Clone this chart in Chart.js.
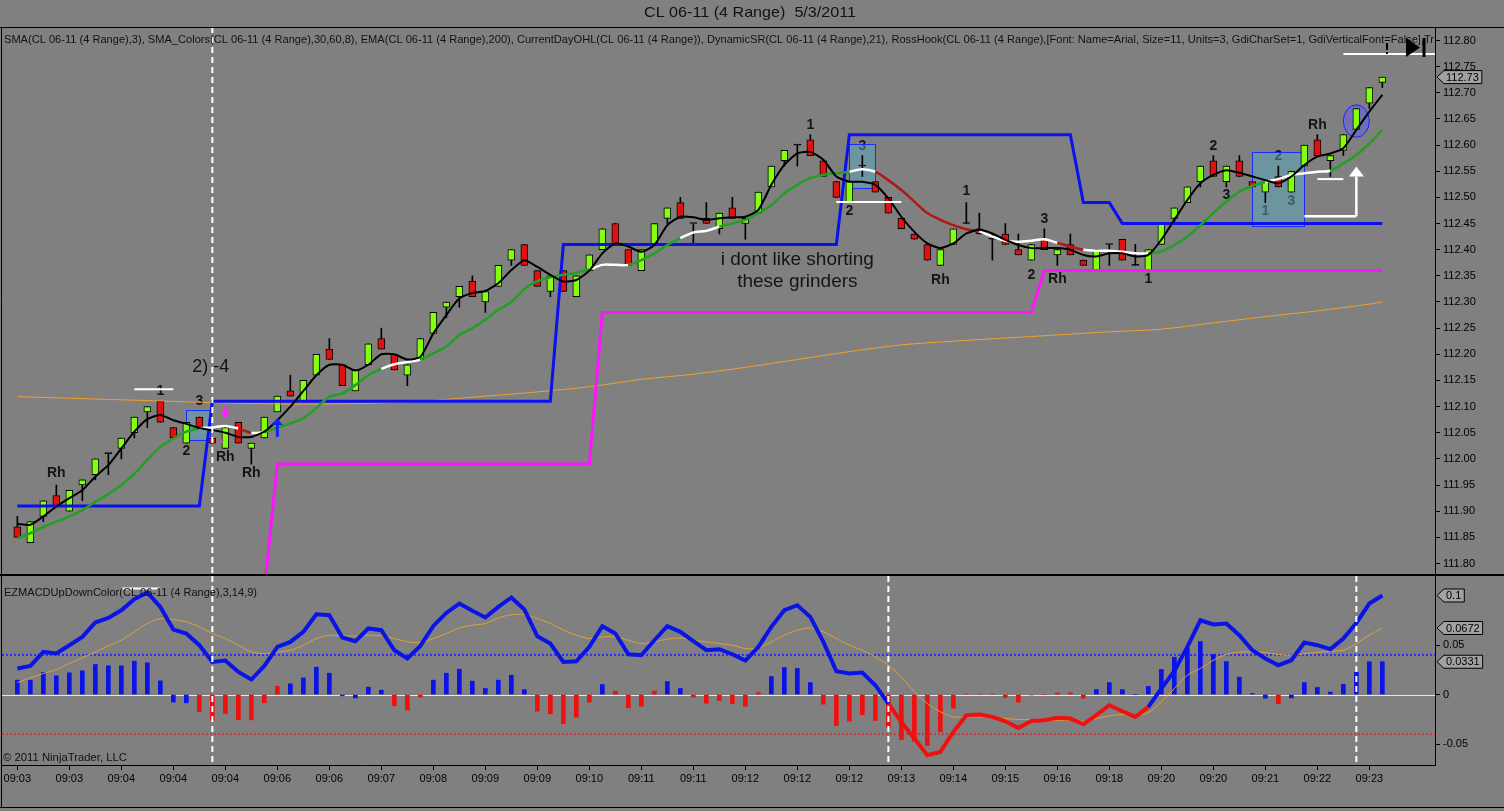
<!DOCTYPE html>
<html>
<head>
<meta charset="utf-8">
<script src="https://cdn.jsdelivr.net/npm/chart.js@4.4.1/dist/chart.umd.min.js"></script>
<style>
  html, body { margin: 0; padding: 0; background: #808080; }
  #wrap { position: relative; width: 1504px; height: 811px; overflow: hidden; background: #808080; }
  canvas { position: absolute; left: 0; }
  #price { top: 0; }
  #macd { top: 575px; }
</style>
</head>
<body>
<div id="wrap">
  <canvas id="price" width="1504" height="576"></canvas>
  <canvas id="macd" width="1504" height="236"></canvas>
</div>
<script>
// ---- data ----
const xLabels = ['09:03','09:03','09:04','09:04','09:04','09:06','09:06','09:07','09:08','09:09','09:09','09:10','09:11','09:11',
                 '09:12','09:12','09:12','09:13','09:14','09:15','09:16','09:18','09:20','09:20','09:21','09:22','09:23'];
const tickIdx = [0,4,8,12,16,20,24,28,32,36,40,44,48,52,56,60,64,68,72,76,80,84,88,92,96,100,104];
const priceTicks = [111.80,111.85,111.90,111.95,112.00,112.05,112.10,112.15,112.20,112.25,112.30,112.35,112.40,
                    112.45,112.50,112.55,112.60,112.65,112.70,112.75,112.80];
const macdTicks = [-0.05, 0, 0.05];

const opens = [
  111.87,111.84,111.89,111.93,111.90,111.95,111.97,112.01,112.02,112.05,
  112.09,112.11,112.06,112.03,112.08,112.04,112.02,112.07,112.02,112.04,
  112.09,112.13,112.11,112.16,112.21,112.18,112.13,112.18,112.23,112.20,
  112.16,112.19,112.24,112.29,112.31,112.34,112.30,112.33,112.38,112.41,
  112.36,112.32,112.36,112.31,112.36,112.40,112.45,112.40,112.36,112.41,
  112.46,112.49,112.45,112.46,112.44,112.48,112.45,112.47,112.52,112.57,
  112.60,112.61,112.57,112.53,112.49,112.56,112.53,112.50,112.46,112.43,
  112.41,112.37,112.41,112.45,112.44,112.42,112.43,112.40,112.38,112.42,
  112.39,112.41,112.38,112.36,112.41,112.42,112.37,112.36,112.41,112.46,
  112.49,112.53,112.57,112.53,112.57,112.53,112.51,112.54,112.51,112.56,
  112.61,112.57,112.59,112.63,112.68,112.72];
const highs = [
  111.89,111.88,111.92,111.95,111.94,111.96,112.00,112.01,112.04,112.08,
  112.10,112.11,112.06,112.07,112.08,112.04,112.06,112.07,112.03,112.08,
  112.12,112.16,112.15,112.20,112.23,112.18,112.17,112.22,112.25,112.20,
  112.18,112.23,112.28,112.30,112.33,112.35,112.32,112.37,112.40,112.41,
  112.36,112.35,112.36,112.35,112.39,112.44,112.45,112.40,112.40,112.45,
  112.48,112.50,112.45,112.49,112.47,112.50,112.46,112.51,112.56,112.59,
  112.60,112.62,112.57,112.53,112.53,112.58,112.53,112.50,112.46,112.43,
  112.41,112.40,112.44,112.49,112.47,112.43,112.45,112.43,112.41,112.44,
  112.40,112.43,112.38,112.40,112.41,112.42,112.41,112.40,112.45,112.48,
  112.52,112.56,112.58,112.56,112.58,112.53,112.53,112.56,112.55,112.60,
  112.62,112.58,112.62,112.67,112.71,112.73];
const lows = [
  111.85,111.84,111.88,111.91,111.90,111.92,111.96,111.97,112.00,112.04,
  112.06,112.07,112.04,112.03,112.06,112.03,112.02,112.03,111.99,112.04,
  112.09,112.12,112.11,112.16,112.19,112.14,112.13,112.18,112.21,112.17,
  112.14,112.19,112.24,112.27,112.29,112.31,112.28,112.33,112.37,112.37,
  112.33,112.31,112.32,112.31,112.36,112.40,112.41,112.37,112.36,112.41,
  112.45,112.46,112.41,112.45,112.43,112.46,112.42,112.47,112.52,112.56,
  112.56,112.58,112.54,112.50,112.49,112.54,112.51,112.47,112.44,112.42,
  112.38,112.37,112.41,112.45,112.43,112.38,112.41,112.39,112.38,112.40,
  112.37,112.39,112.37,112.36,112.37,112.38,112.37,112.36,112.41,112.45,
  112.49,112.52,112.54,112.52,112.54,112.52,112.49,112.52,112.51,112.56,
  112.58,112.54,112.58,112.63,112.67,112.71];
const closes = [
  111.85,111.88,111.92,111.91,111.94,111.96,112.00,112.01,112.04,112.08,
  112.10,112.07,112.04,112.07,112.06,112.03,112.06,112.03,112.03,112.08,
  112.12,112.12,112.15,112.20,112.19,112.14,112.17,112.22,112.21,112.17,
  112.18,112.23,112.28,112.30,112.33,112.31,112.32,112.37,112.40,112.37,
  112.33,112.35,112.32,112.35,112.39,112.44,112.41,112.37,112.40,112.45,
  112.48,112.46,112.45,112.45,112.47,112.46,112.46,112.51,112.56,112.59,
  112.60,112.58,112.54,112.50,112.53,112.56,112.51,112.47,112.44,112.42,
  112.38,112.40,112.44,112.45,112.43,112.42,112.41,112.39,112.41,112.40,
  112.40,112.39,112.37,112.40,112.41,112.38,112.37,112.40,112.45,112.48,
  112.52,112.56,112.54,112.56,112.54,112.52,112.53,112.52,112.55,112.60,
  112.58,112.58,112.62,112.67,112.71,112.73];

// SMA(3), black
const sma3 = [
  111.876,111.874,111.890,111.909,111.925,111.940,111.966,111.988,112.020,112.052,
  112.076,112.084,112.074,112.067,112.059,112.055,112.050,112.042,112.042,112.052,
  112.074,112.100,112.130,112.160,112.180,112.180,112.169,112.180,112.200,112.200,
  112.190,112.195,112.240,112.275,112.307,112.317,112.321,112.336,112.361,112.380,
  112.367,112.352,112.339,112.342,112.360,112.393,112.412,112.406,112.396,112.409,
  112.447,112.463,112.462,112.457,112.460,112.462,112.463,112.476,112.524,112.562,
  112.584,112.587,112.572,112.540,112.530,112.530,112.524,112.498,112.463,112.434,
  112.412,112.403,112.412,112.431,112.438,112.431,112.419,112.409,112.403,112.403,
  112.403,112.400,112.390,112.387,112.393,112.393,112.387,112.390,112.419,112.457,
  112.495,112.527,112.543,112.552,112.547,112.540,112.533,112.527,112.540,112.562,
  112.578,112.584,112.594,112.629,112.664,112.696];

// SMA_Colors(30,60,8) with its rising / flat / falling colouring
const smaColors = [
  111.848,111.858,111.870,111.880,111.890,111.902,111.918,111.933,111.950,111.972,
  111.998,112.023,112.039,112.052,112.058,112.060,112.063,112.058,112.050,112.051,
  112.060,112.068,112.078,112.097,112.119,112.125,112.141,112.160,112.172,112.181,
  112.185,112.190,112.202,112.215,112.237,112.250,112.266,112.285,112.300,112.325,
  112.340,112.347,112.352,112.356,112.362,112.371,112.371,112.371,112.380,112.393,
  112.409,112.422,112.433,112.436,112.444,112.450,112.457,112.470,112.485,112.508,
  112.524,112.537,112.543,112.546,112.549,112.554,112.549,112.533,112.514,112.492,
  112.470,112.457,112.447,112.439,112.435,112.425,112.417,112.415,112.417,112.420,
  112.413,112.406,112.400,112.398,112.398,112.396,112.393,112.393,112.397,112.409,
  112.425,112.447,112.470,112.492,112.511,112.522,112.530,112.535,112.543,112.546,
  112.549,112.551,112.565,112.581,112.603,112.629];
const smaState = ('ggggggggggggggg' + 'www' + 'r' + 'w' + 'ggggggggg' + 'www' + 'ggggggggggggg' + 'www' +
                  'gggg' + 'www' + 'gggggggggg' + 'ww' + 'rrrrrrrr' + 'wwwwww' + 'rr' + 'wwwww' +
                  'ggggggggg' + 'wwwww' + 'gggg').split('');

// EMA(200), read every 4th bar
const emaIdx = [0,4,8,12,16,20,24,28,32,36,40,44,48,52,56,60,64,68,72,76,80,84,88,92,96,100,104,105];
const emaVal = [112.119,112.116,112.113,112.110,112.107,112.105,112.105,112.107,112.112,112.120,112.128,112.138,
                112.152,112.162,112.175,112.190,112.205,112.218,112.225,112.231,112.237,112.243,112.248,112.260,
                112.272,112.283,112.296,112.300];

// CurrentDayOHL high (blue) and low (magenta), break points
const ohlHighIdx = [0,14,15,41,42,63,64,81,82,84,85,105];
const ohlHighVal = [111.91,111.91,112.11,112.11,112.41,112.41,112.62,112.62,112.49,112.49,112.45,112.45];
const ohlLowIdx = [19,20,44,45,78,79,105];
const ohlLowVal = [111.75,111.99,111.99,112.28,112.28,112.36,112.36];

// EZMACD panel
const macd = [
  0.0263,0.0289,0.0430,0.0414,0.0498,0.0582,0.0727,0.0774,0.0851,0.0963,
  0.1030,0.0885,0.0656,0.0616,0.0498,0.0329,0.0343,0.0228,0.0151,0.0289,
  0.0481,0.0531,0.0632,0.0811,0.0801,0.0576,0.0538,0.0667,0.0650,0.0447,
  0.0364,0.0491,0.0693,0.0824,0.0919,0.0845,0.0778,0.0885,0.0980,0.0859,
  0.0589,0.0515,0.0329,0.0336,0.0481,0.0690,0.0616,0.0407,0.0397,0.0548,
  0.0690,0.0633,0.0538,0.0447,0.0458,0.0407,0.0343,0.0481,0.0683,0.0851,
  0.0902,0.0784,0.0532,0.0235,0.0212,0.0222,0.0094,-0.0091,-0.0277,-0.0445,
  -0.0613,-0.0580,-0.0378,-0.0209,-0.0202,-0.0226,-0.0270,-0.0337,-0.0267,-0.0260,
  -0.0236,-0.0243,-0.0300,-0.0209,-0.0108,-0.0169,-0.0226,-0.0125,0.0060,0.0238,
  0.0481,0.0750,0.0707,0.0717,0.0599,0.0447,0.0364,0.0296,0.0346,0.0525,
  0.0498,0.0458,0.0566,0.0723,0.0919,0.1000];
const macdState = ('b'.repeat(68) + 'r'.repeat(20) + 'b'.repeat(18)).split('');
const signal = [
  0.0121,0.0168,0.0212,0.0253,0.0314,0.0370,0.0430,0.0491,0.0548,0.0633,
  0.0717,0.0767,0.0757,0.0734,0.0683,0.0616,0.0565,0.0498,0.0430,0.0414,
  0.0430,0.0447,0.0498,0.0565,0.0599,0.0592,0.0589,0.0599,0.0592,0.0565,
  0.0532,0.0525,0.0565,0.0616,0.0673,0.0700,0.0717,0.0774,0.0805,0.0808,
  0.0767,0.0717,0.0650,0.0599,0.0565,0.0582,0.0582,0.0548,0.0515,0.0532,
  0.0559,0.0572,0.0548,0.0532,0.0515,0.0498,0.0465,0.0471,0.0532,0.0599,
  0.0650,0.0673,0.0633,0.0565,0.0498,0.0447,0.0380,0.0296,0.0178,0.0027,
  -0.0091,-0.0175,-0.0226,-0.0226,-0.0226,-0.0236,-0.0243,-0.0252,-0.0253,-0.0260,
  -0.0260,-0.0260,-0.0270,-0.0243,-0.0216,-0.0202,-0.0209,-0.0182,-0.0075,0.0060,
  0.0195,0.0263,0.0346,0.0404,0.0430,0.0430,0.0424,0.0404,0.0397,0.0414,
  0.0424,0.0438,0.0447,0.0515,0.0599,0.0672];
const hist = [
  0.0145,0.0145,0.0222,0.0189,0.0219,0.0239,0.0303,0.0290,0.0290,0.0337,
  0.0320,0.0138,-0.0077,-0.0084,-0.0175,-0.0260,-0.0192,-0.0256,-0.0256,-0.0084,
  0.0084,0.0108,0.0168,0.0276,0.0215,-0.0013,-0.0034,0.0074,0.0044,-0.0114,
  -0.0158,-0.0027,0.0145,0.0215,0.0256,0.0135,0.0061,0.0145,0.0195,0.0050,
  -0.0168,-0.0195,-0.0296,-0.0229,-0.0077,0.0101,0.0034,-0.0135,-0.0118,0.0034,
  0.0131,0.0061,-0.0027,-0.0088,-0.0061,-0.0094,-0.0118,0.0020,0.0182,0.0273,
  0.0263,0.0121,-0.0098,-0.0313,-0.0269,-0.0205,-0.0263,-0.0330,-0.0455,-0.0471,
  -0.0515,-0.0377,-0.0138,0.0005,0.0005,0.0005,-0.0030,-0.0077,-0.0005,0.0000,
  0.0017,0.0017,-0.0037,0.0050,0.0121,0.0050,0.0000,0.0081,0.0253,0.0377,
  0.0468,0.0535,0.0404,0.0333,0.0175,0.0010,-0.0037,-0.0094,-0.0034,0.0121,
  0.0071,0.0024,0.0104,0.0226,0.0331,0.0331];
const histState = ('b'.repeat(14) + 'r'.repeat(7) + 'b'.repeat(8) + 'r'.repeat(3) + 'b'.repeat(8) + 'r'.repeat(5) +
                   'b' + 'r'.repeat(4) + 'b'.repeat(2) + 'r'.repeat(6) + 'b'.repeat(4) + 'r'.repeat(21) +
                   'b'.repeat(14) + 'r' + 'b'.repeat(8)).split('');
const macdLevels = [0.04, -0.04];

// drawn annotations (bar index, price)
const noteIdx   = [3, 11, 14, 13, 16, 18, 61, 65, 64, 73, 71, 79, 78, 80, 87, 92, 93, 97, 96, 98, 100];
const notePrice = [111.973,112.130,112.111,112.014,112.004,111.973,112.638,112.598,112.473,112.511,112.342,
                   112.458,112.352,112.343,112.343,112.598,112.505,112.579,112.473,112.492,112.638];
const noteText  = ['Rh','1','3','2','Rh','Rh','1','3','2','1','Rh','3','2','Rh','1','2','3','2','1','3','Rh'];
const commentText = ['i dont like shorting', 'these grinders'];
const commentIdx = 60;
const commentPrice = [112.380, 112.338];
const tradeNote = '2) -4';
const tradeNoteIdx = 13.45;
const tradeNotePrice = 112.176;
const boxI0 = [13, 64, 95];
const boxI1 = [14.88, 66.03, 99];
const boxP0 = [112.094, 112.602, 112.586];
const boxP1 = [112.037, 112.517, 112.444];
const ellI = 103, ellP = 112.646, ellDI = 1.0, ellDP = 0.031;
const wlI0 = [9, 63, 100, 102];
const wlI1 = [12, 68, 102, 110];
const wlP  = [112.133, 112.491, 112.535, 112.774];
const hookI0 = 99, hookI1 = 103, hookP0 = 112.464, hookP1 = 112.559;
const topDashIdx = [15];
const macdDashIdx = [15, 67, 103];

const X_MIN = -1.18, X_MAX = 109.05;
const P_MIN = 111.7799, P_MAX = 112.8258;
const M_MIN = -0.0712, M_MAX = 0.1197;

const FONT = '"Liberation Sans", Arial, sans-serif';
Chart.defaults.font.family = FONT;
Chart.defaults.font.size = 11;
Chart.defaults.color = '#000';

const SEG = { g: '#22a022', w: '#ffffff', r: '#b01818' };
const UPDN = { b: '#0a14e6', r: '#f01010' };

const pts = arr => arr.map((v, i) => ({ x: i, y: v }));

// keep the plot areas exactly where the panels are: no label overflow padding
function fixWidth(w) {
  return s => { s.width = w; s.paddingTop = 0; s.paddingBottom = 0; };
}
function fixHeight(h) {
  return s => { s.height = h; s.paddingLeft = 0; s.paddingRight = 0; };
}

function fitText(ctx, text, x, y, w) {
  const m = ctx.measureText(text).width;
  ctx.save();
  ctx.translate(x, y);
  ctx.scale(w / m, 1);
  ctx.fillText(text, 0, 0);
  ctx.restore();
}

function clipArea(ctx, a) {
  ctx.beginPath();
  ctx.rect(a.left, a.top, a.right - a.left, a.bottom - a.top);
  ctx.clip();
}

function arrowV(ctx, x, yFrom, yTo, color, shaft, head) {
  const dir = yTo > yFrom ? 1 : -1;
  ctx.strokeStyle = color;
  ctx.fillStyle = color;
  ctx.lineWidth = shaft;
  ctx.beginPath();
  ctx.moveTo(x, yFrom);
  ctx.lineTo(x, yTo - dir * head);
  ctx.stroke();
  ctx.beginPath();
  ctx.moveTo(x - head * 0.75, yTo - dir * head);
  ctx.lineTo(x + head * 0.75, yTo - dir * head);
  ctx.lineTo(x, yTo);
  ctx.closePath();
  ctx.fill();
}

function valueBox(ctx, x, y, text) {
  ctx.font = '11px ' + FONT;
  const w = ctx.measureText(text).width + 5;
  const h = 13, tip = 7;
  ctx.beginPath();
  ctx.moveTo(x, y);
  ctx.lineTo(x + tip, y - h / 2);
  ctx.lineTo(x + tip + w, y - h / 2);
  ctx.lineTo(x + tip + w, y + h / 2);
  ctx.lineTo(x + tip, y + h / 2);
  ctx.closePath();
  ctx.fillStyle = '#a2a2a2';
  ctx.fill();
  ctx.strokeStyle = '#000';
  ctx.lineWidth = 1;
  ctx.stroke();
  ctx.fillStyle = '#000';
  ctx.textAlign = 'left';
  ctx.textBaseline = 'middle';
  ctx.fillText(text, x + tip + 2, y + 0.5);
}

function dashedV(ctx, x, a) {
  ctx.save();
  ctx.strokeStyle = '#ffffff';
  ctx.lineWidth = 2;
  ctx.setLineDash([6, 4]);
  ctx.beginPath();
  ctx.moveTo(x, a.top);
  ctx.lineTo(x, a.bottom);
  ctx.stroke();
  ctx.restore();
}

const fmt = v => String(Number(v.toFixed(4)));

// ---- price panel ----
const priceDecor = {
  id: 'priceDecor',
  beforeDatasetsDraw(chart) {
    const { ctx, chartArea: a, scales: { x, y } } = chart;
    ctx.save();
    clipArea(ctx, a);
    ctx.fillStyle = '#141414';
    ctx.textAlign = 'center';
    ctx.textBaseline = 'middle';
    ctx.font = 'bold 14px ' + FONT;
    noteText.forEach((t, k) => ctx.fillText(t, x.getPixelForValue(noteIdx[k]), y.getPixelForValue(notePrice[k])));
    ctx.font = '19px ' + FONT;
    commentText.forEach((t, k) => ctx.fillText(t, x.getPixelForValue(commentIdx), y.getPixelForValue(commentPrice[k])));
    ctx.textAlign = 'left';
    ctx.font = '18px ' + FONT;
    ctx.fillText(tradeNote, x.getPixelForValue(tradeNoteIdx), y.getPixelForValue(tradeNotePrice));

    boxI0.forEach((i0, k) => {
      const x0 = x.getPixelForValue(i0), x1 = x.getPixelForValue(boxI1[k]);
      const y0 = y.getPixelForValue(boxP0[k]), y1 = y.getPixelForValue(boxP1[k]);
      ctx.fillStyle = 'rgba(90,170,190,0.5)';
      ctx.fillRect(x0, y0, x1 - x0, y1 - y0);
      ctx.strokeStyle = '#1a2cff';
      ctx.lineWidth = 1;
      ctx.strokeRect(Math.round(x0) + 0.5, Math.round(y0) + 0.5, Math.round(x1 - x0), Math.round(y1 - y0));
    });

    const ex = x.getPixelForValue(ellI), ey = y.getPixelForValue(ellP);
    const rx = x.getPixelForValue(ellI + ellDI) - ex;
    const ry = ey - y.getPixelForValue(ellP + ellDP);
    ctx.beginPath();
    ctx.ellipse(ex, ey, rx, ry, 0, 0, Math.PI * 2);
    ctx.fillStyle = 'rgba(90,90,255,0.45)';
    ctx.fill();
    ctx.strokeStyle = '#2020ff';
    ctx.lineWidth = 1;
    ctx.stroke();
    ctx.restore();
  },
  afterDatasetsDraw(chart) {
    const { ctx, chartArea: a, scales: { x, y } } = chart;
    ctx.save();
    clipArea(ctx, a);
    ctx.strokeStyle = '#ffffff';
    ctx.lineWidth = 2;
    wlI0.forEach((i0, k) => {
      const yy = y.getPixelForValue(wlP[k]);
      ctx.beginPath();
      ctx.moveTo(x.getPixelForValue(i0), yy);
      ctx.lineTo(x.getPixelForValue(wlI1[k]), yy);
      ctx.stroke();
    });
    // RossHook target arrow
    const hx0 = x.getPixelForValue(hookI0), hx1 = x.getPixelForValue(hookI1);
    const hy0 = y.getPixelForValue(hookP0);
    ctx.lineWidth = 2.5;
    ctx.beginPath();
    ctx.moveTo(hx0, hy0);
    ctx.lineTo(hx1, hy0);
    ctx.stroke();
    arrowV(ctx, hx1, hy0, y.getPixelForValue(hookP1), '#ffffff', 2.5, 10);
    // entry markers
    arrowV(ctx, x.getPixelForValue(16), y.getPixelForValue(112.100), y.getPixelForValue(112.077), '#ff20ff', 3, 6);
    arrowV(ctx, x.getPixelForValue(20), y.getPixelForValue(112.042), y.getPixelForValue(112.078), '#1020ff', 3, 7);
    arrowV(ctx, x.getPixelForValue(15.73), y.getPixelForValue(112.036), y.getPixelForValue(112.030), '#ff20ff', 1, 3);
    topDashIdx.forEach(i => dashedV(ctx, x.getPixelForValue(i), a));
    ctx.restore();
  },
  afterDraw(chart) {
    const { ctx, chartArea: a, scales: { y } } = chart;
    const W = chart.width;
    ctx.save();
    ctx.fillStyle = '#111';
    ctx.textBaseline = 'middle';
    ctx.textAlign = 'left';
    ctx.font = '15px ' + FONT;
    fitText(ctx, 'CL 06-11 (4 Range)  5/3/2011', 644, 13, 212);

    ctx.save();
    clipArea(ctx, a);
    ctx.font = '11px ' + FONT;
    fitText(ctx, 'SMA(CL 06-11 (4 Range),3), SMA_Colors(CL 06-11 (4 Range),30,60,8), EMA(CL 06-11 (4 Range),200), ' +
      'CurrentDayOHL(CL 06-11 (4 Range)), DynamicSR(CL 06-11 (4 Range),21), RossHook(CL 06-11 (4 Range),' +
      '[Font: Name=Arial, Size=11, Units=3, GdiCharSet=1, GdiVerticalFont=False],Tr', 4, 40, 1430);
    ctx.restore();

    // scroll-to-end button
    ctx.fillStyle = '#000';
    ctx.beginPath();
    ctx.moveTo(a.right - 29, 38);
    ctx.lineTo(a.right - 29, 57);
    ctx.lineTo(a.right - 15, 47.5);
    ctx.closePath();
    ctx.fill();
    ctx.fillRect(a.right - 12.5, 38, 3, 19);
    ctx.fillRect(a.right - 49, 43, 2, 7);
    ctx.fillRect(a.right - 49, 52, 2, 2);

    // frame
    ctx.strokeStyle = '#000';
    ctx.lineWidth = 1;
    ctx.beginPath();
    ctx.moveTo(0, a.top + 0.5); ctx.lineTo(W, a.top + 0.5);
    ctx.moveTo(0, a.bottom + 0.5); ctx.lineTo(W, a.bottom + 0.5);
    ctx.moveTo(1.5, a.top); ctx.lineTo(1.5, chart.height);
    ctx.stroke();

    valueBox(ctx, a.right + 2, y.getPixelForValue(closes[closes.length - 1]), closes[closes.length - 1].toFixed(2));
    ctx.restore();
  }
};

new Chart(document.getElementById('price'), {
  type: 'bar',
  data: {
    datasets: [
      { type: 'line', label: 'SMA(3)', data: pts(sma3), borderColor: '#000', borderWidth: 2,
        pointRadius: 0, tension: 0.2, order: 1 },
      { type: 'line', label: 'SMA_Colors', data: pts(smaColors), borderColor: SEG.g, borderWidth: 2.5,
        segment: { borderColor: c => SEG[smaState[c.p1DataIndex]] },
        pointRadius: 0, tension: 0.3, order: 2 },
      { type: 'line', label: 'Day high', data: ohlHighIdx.map((i, k) => ({ x: i, y: ohlHighVal[k] })),
        borderColor: '#0a10f0', borderWidth: 3, pointRadius: 0, tension: 0, order: 3 },
      { type: 'line', label: 'Day low', data: ohlLowIdx.map((i, k) => ({ x: i, y: ohlLowVal[k] })),
        borderColor: '#ff14ff', borderWidth: 3, pointRadius: 0, tension: 0, order: 4 },
      { type: 'line', label: 'EMA(200)', data: emaIdx.map((i, k) => ({ x: i, y: emaVal[k] })),
        borderColor: '#f0a030', borderWidth: 1, pointRadius: 0, tension: 0.3, order: 5 },
      { type: 'bar', label: 'bodies', data: opens.map((o, i) => ({ x: i, y: [o, closes[i]] })),
        backgroundColor: opens.map((o, i) => closes[i] > o ? '#84ff10' : (closes[i] < o ? '#e41010' : '#000')),
        borderColor: '#000', borderWidth: 1, borderSkipped: false, barThickness: 7, minBarLength: 1,
        grouped: false, order: 6 },
      { type: 'bar', label: 'wicks', data: lows.map((l, i) => ({ x: i, y: [l, highs[i]] })),
        backgroundColor: '#000', borderWidth: 0, barThickness: 1, grouped: false, order: 7 }
    ]
  },
  options: {
    responsive: false,
    animation: false,
    layout: { padding: { top: 27, left: 2, right: 0, bottom: 2 } },
    plugins: { legend: { display: false }, tooltip: { enabled: false } },
    scales: {
      x: { type: 'linear', min: X_MIN, max: X_MAX, display: false, offset: false },
      y: {
        position: 'right', min: P_MIN, max: P_MAX,
        afterFit: fixWidth(69),
        afterBuildTicks: s => { s.ticks = priceTicks.map(v => ({ value: v })); },
        ticks: { callback: v => Number(v).toFixed(2), color: '#000', font: { size: 11 }, padding: 3, autoSkip: false },
        grid: { drawOnChartArea: false, drawTicks: true, tickLength: 5, color: '#000' },
        border: { display: true, color: '#000' }
      }
    }
  },
  plugins: [priceDecor]
});

// ---- MACD panel ----
const macdDecor = {
  id: 'macdDecor',
  beforeDatasetsDraw(chart) {
    const { ctx, chartArea: a, scales: { y } } = chart;
    ctx.save();
    clipArea(ctx, a);
    ctx.lineWidth = 1;
    ctx.strokeStyle = '#e8e8e8';
    const y0 = Math.round(y.getPixelForValue(0)) + 0.5;
    ctx.beginPath(); ctx.moveTo(a.left, y0); ctx.lineTo(a.right, y0); ctx.stroke();
    ctx.lineWidth = 2;
    ctx.setLineDash([2, 2]);
    macdLevels.forEach(v => {
      ctx.strokeStyle = v > 0 ? '#2a2aff' : '#d0303a';
      const yy = y.getPixelForValue(v);
      ctx.beginPath(); ctx.moveTo(a.left, yy); ctx.lineTo(a.right, yy); ctx.stroke();
    });
    ctx.restore();
  },
  afterDatasetsDraw(chart) {
    const { ctx, chartArea: a, scales: { x, y } } = chart;
    ctx.save();
    clipArea(ctx, a);
    macdDashIdx.forEach(i => dashedV(ctx, x.getPixelForValue(i), a));
    ctx.strokeStyle = '#ffffff';
    ctx.lineWidth = 2;
    const yy = y.getPixelForValue(0.107);
    ctx.beginPath(); ctx.moveTo(x.getPixelForValue(8.03), yy); ctx.lineTo(x.getPixelForValue(10.98), yy); ctx.stroke();
    ctx.fillStyle = '#111';
    ctx.textAlign = 'left';
    ctx.textBaseline = 'middle';
    ctx.font = '11px ' + FONT;
    fitText(ctx, 'EZMACDUpDownColor(CL 06-11 (4 Range),3,14,9)', 4, a.top + 17, 253);
    fitText(ctx, '\u00A9 2011 NinjaTrader, LLC', 3, a.bottom - 7, 124);
    ctx.restore();
  },
  afterDraw(chart) {
    const { ctx, chartArea: a, scales: { y } } = chart;
    const W = chart.width, H = chart.height;
    ctx.save();
    ctx.strokeStyle = '#000';
    ctx.lineWidth = 1;
    ctx.beginPath();
    ctx.moveTo(0, a.top - 0.5); ctx.lineTo(W, a.top - 0.5);
    ctx.moveTo(0, H - 3.5); ctx.lineTo(W, H - 3.5);
    ctx.moveTo(1.5, 0); ctx.lineTo(1.5, H - 3);
    ctx.stroke();
    const last = macd.length - 1;
    valueBox(ctx, a.right + 2, y.getPixelForValue(hist[last]), fmt(hist[last]));
    valueBox(ctx, a.right + 2, y.getPixelForValue(signal[last]), fmt(signal[last]));
    valueBox(ctx, a.right + 2, y.getPixelForValue(macd[last]), fmt(macd[last]));
    ctx.restore();
  }
};

new Chart(document.getElementById('macd'), {
  type: 'bar',
  data: {
    datasets: [
      { type: 'line', label: 'MACD', data: pts(macd), borderColor: UPDN.b, borderWidth: 4,
        segment: { borderColor: c => UPDN[macdState[c.p1DataIndex]] },
        pointRadius: 0, tension: 0, order: 1 },
      { type: 'line', label: 'Avg', data: pts(signal), borderColor: '#dca03c', borderWidth: 1,
        pointRadius: 0, tension: 0.3, order: 2 },
      { type: 'bar', label: 'Diff', data: pts(hist), backgroundColor: histState.map(s => UPDN[s]),
        borderWidth: 0, barThickness: 4, grouped: false, order: 3 }
    ]
  },
  options: {
    responsive: false,
    animation: false,
    layout: { padding: { top: 1, left: 2, right: 0, bottom: 0 } },
    plugins: { legend: { display: false }, tooltip: { enabled: false } },
    scales: {
      x: {
        type: 'linear', min: X_MIN, max: X_MAX, offset: false,
        afterFit: fixHeight(46),
        afterBuildTicks: s => { s.ticks = tickIdx.map(v => ({ value: v })); },
        ticks: { callback: v => xLabels[tickIdx.indexOf(v)], color: '#000', font: { size: 11 },
                 maxRotation: 0, autoSkip: false, padding: 2 },
        grid: { drawOnChartArea: false, drawTicks: true, tickLength: 5, color: '#000', offset: false },
        border: { display: true, color: '#000' }
      },
      y: {
        position: 'right', min: M_MIN, max: M_MAX,
        afterFit: fixWidth(69),
        afterBuildTicks: s => { s.ticks = macdTicks.map(v => ({ value: v })); },
        ticks: { callback: v => String(v), color: '#000', font: { size: 11 }, padding: 3, autoSkip: false },
        grid: { drawOnChartArea: false, drawTicks: true, tickLength: 5, color: '#000' },
        border: { display: true, color: '#000' }
      }
    }
  },
  plugins: [macdDecor]
});
</script>
</body>
</html>
